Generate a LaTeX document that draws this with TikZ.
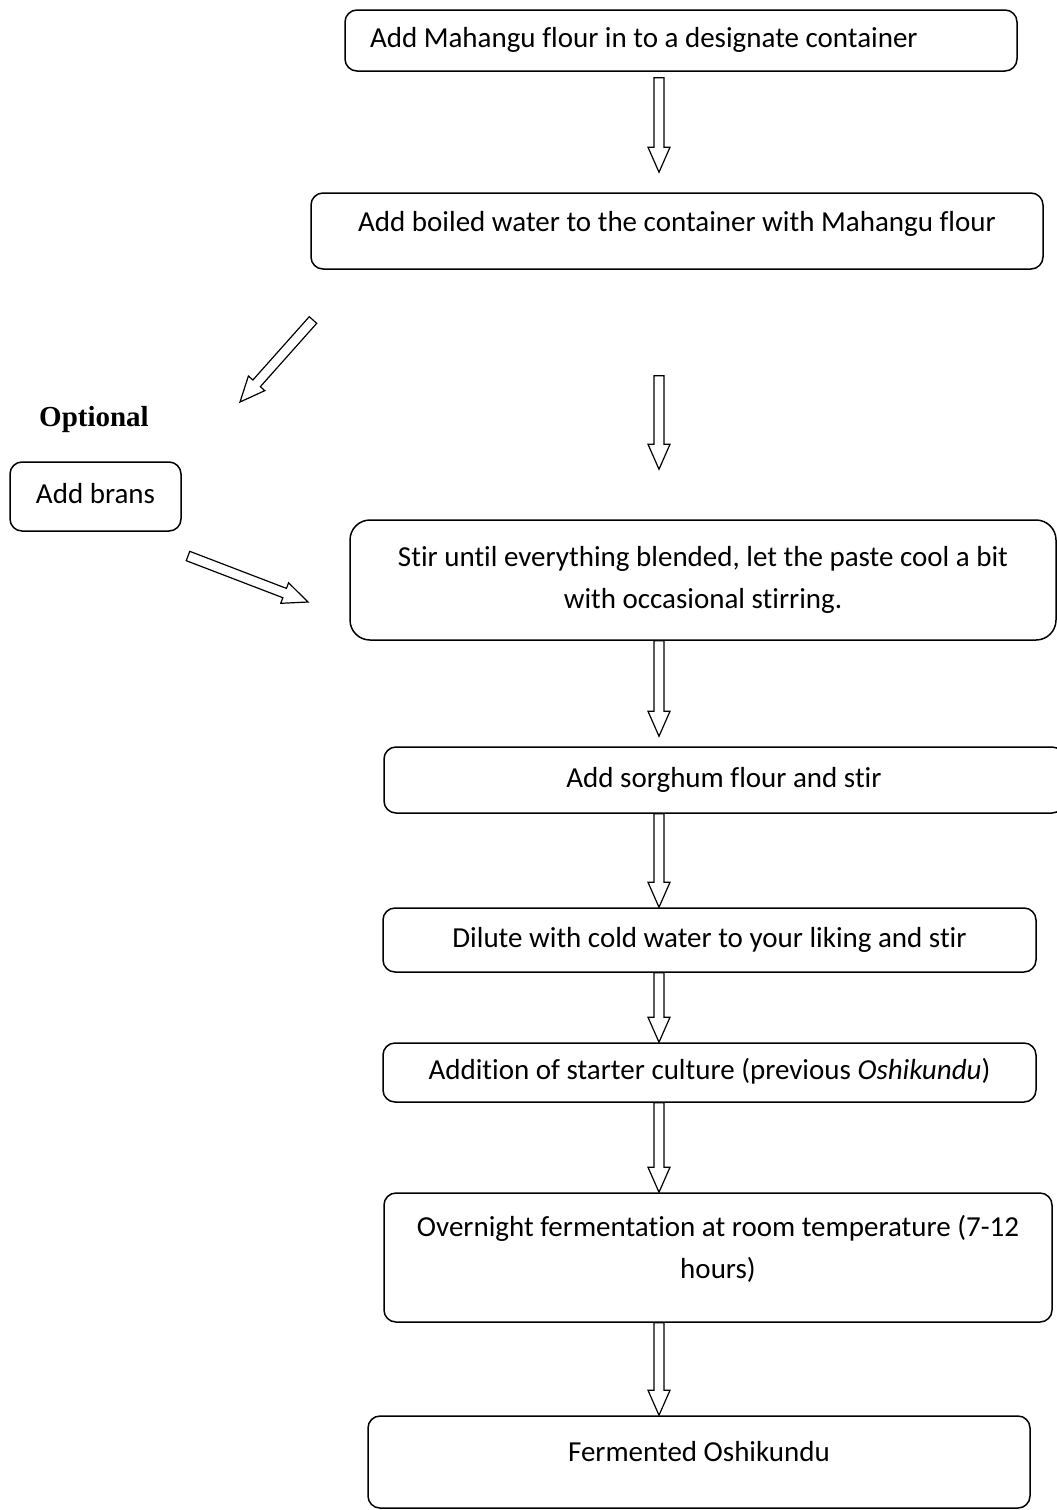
\documentclass[tikz,border=0pt]{standalone}
\usepackage{fontspec}
\setmainfont{Carlito}[Ligatures=NoCommon]
\newfontfamily\optfont{Liberation Serif}
\usetikzlibrary{calc,positioning}

\tikzset{
  stepbox/.style={draw, line width=1.5pt, rounded corners=12pt, inner sep=0pt,
    align=center, font=\fontsize{29}{42}\selectfont},
  oneline/.style={text height=20pt, text depth=6pt},
  hollowarrow/.style={draw, line width=1.2pt, fill=white, line join=miter},
}

% hollow block arrow from #1 to #2
\newcommand{\blockarrow}[2]{%
  \coordinate (bas) at (#1);
  \coordinate (bae) at (#2);
  \coordinate (bah) at ($(bae)!25pt!(bas)$);
  \draw[hollowarrow] ($(bas)!5pt!90:(bae)$) -- ($(bah)!5pt!-90:(bas)$)
    -- ($(bah)!11pt!-90:(bas)$) -- (bae) -- ($(bah)!11pt!90:(bas)$)
    -- ($(bah)!5pt!90:(bas)$) -- ($(bas)!5pt!-90:(bae)$) -- cycle;
}

\begin{document}
\begin{tikzpicture}[x=1pt,y=-1pt]
  \useasboundingbox (0,0) rectangle (1057,1510);
  \coordinate (spine) at (659,0);

  % steps
  \node[stepbox, oneline, minimum width=672pt, minimum height=61pt, text width=622pt, align=flush left] (flour) at (681,40.5) {Add Mahangu flour in to a designate container};
  \node[stepbox, oneline, minimum width=732pt, minimum height=76pt, text depth=19pt] (boiled) at (677,231) {Add boiled water to the container with Mahangu flour};
  \node[font=\optfont\bfseries\fontsize{29}{34}\selectfont] (optional) at (94,420) {Optional};
  \node[stepbox, oneline, minimum width=171pt, minimum height=69pt] (brans) at (95.5,496.5) {Add brans};
  \node[stepbox, rounded corners=20pt, minimum width=706pt, minimum height=120pt] (stir) at (703,580) {Stir until everything blended, let the paste cool a bit\\with occasional stirring.};
  \node[stepbox, oneline, minimum width=680pt, minimum height=66pt] (sorghum) at (724,780) {Add sorghum flour and stir};
  \node[stepbox, oneline, minimum width=653pt, minimum height=64pt] (dilute) at (709.5,940) {Dilute with cold water to your liking and stir};
  \node[stepbox, oneline, minimum width=653pt, minimum height=59pt] (starter) at (709.5,1072.5) {Addition of starter culture (previous \textit{Oshikundu})};
  \node[stepbox, minimum width=668pt, minimum height=129pt, text depth=22pt] (overnight) at (718,1257.5) {Overnight fermentation at room temperature (7-12\\hours)};
  \node[stepbox, oneline, minimum width=662pt, minimum height=92pt, text depth=21pt] (fermented) at (699,1462) {Fermented Oshikundu};

  % free arrow ends
  \coordinate (optin) at (313,320);
  \coordinate (optout) at (240,402);
  \coordinate (bransout) at (188,556);
  \coordinate (stirin) at (308,602);

  % arrows
  \blockarrow{$(flour.south -| spine)+(0,6)$}{$(boiled.north -| spine)+(0,-20)$}
  \blockarrow{$(boiled.south -| spine)+(0,106)$}{$(stir.north -| spine)+(0,-50)$}
  \blockarrow{optin}{optout}
  \blockarrow{bransout}{stirin}
  \blockarrow{stir.south -| spine}{$(sorghum.north -| spine)+(0,-10)$}
  \blockarrow{sorghum.south -| spine}{dilute.north -| spine}
  \blockarrow{dilute.south -| spine}{starter.north -| spine}
  \blockarrow{starter.south -| spine}{overnight.north -| spine}
  \blockarrow{overnight.south -| spine}{fermented.north -| spine}
\end{tikzpicture}
\end{document}
